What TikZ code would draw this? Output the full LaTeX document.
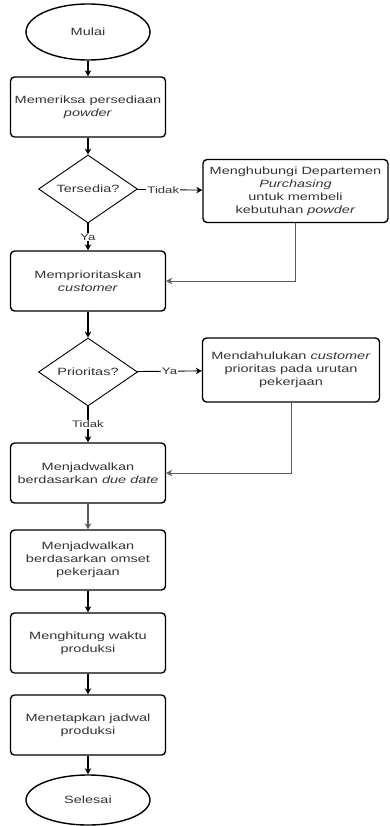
\documentclass[tikz,border=0pt]{standalone}
\usepackage{fontspec}
\setmainfont[FakeStretch=1.38]{Liberation Sans}
\usepackage{xcolor}
\usepackage{tikz}
\usetikzlibrary{arrows.meta, positioning, shapes.geometric}
\definecolor{ctext}{RGB}{51,51,51}
\definecolor{cline}{RGB}{90,90,90}

\begin{document}
\begin{tikzpicture}[
    x=1pt, y=-1pt,
    >={Stealth[length=6pt, width=6.5pt]},
    every node/.style={font=\fontsize{10.5}{13}\selectfont, text=ctext},
    procbox/.style={draw, rounded corners=4pt, line width=1.4pt, minimum width=155pt, minimum height=60pt, align=center, inner sep=2pt},
    decision/.style={draw, diamond, aspect=1.45, line width=0.9pt, minimum width=99pt, minimum height=68pt, inner sep=0pt},
    terminal/.style={draw, ellipse, line width=1.4pt, minimum width=124pt, minimum height=56pt},
    flow/.style={->, line width=1.5pt, black},
    side/.style={->, line width=0.9pt, cline},
    lbl/.style={fill=white, inner sep=1pt, font=\fontsize{9.5}{11}\selectfont},
]
    \useasboundingbox (0,0) rectangle (390,826);

    % Main column
    \node[terminal] (start) at (88, 32) {Mulai};
    \node[procbox] (check) at (88, 107) {Memeriksa persediaan\\\textit{powder}};
    \node[decision] (avail) at (88, 189) {Tersedia?};
    \node[procbox] (prio) at (88, 281) {Memprioritaskan\\\textit{customer}};
    \node[decision] (isprio) at (88, 372) {Prioritas?};
    \node[procbox] (due) at (88, 473) {Menjadwalkan\\berdasarkan \textit{due date}};
    \node[procbox] (omset) at (88, 560) {Menjadwalkan\\berdasarkan omset\\pekerjaan};
    \node[procbox] (time) at (88, 643) {Menghitung waktu\\produksi};
    \node[procbox] (sched) at (88, 725) {Menetapkan jadwal\\produksi};
    \node[terminal, minimum height=50pt] (stop) at (88, 800) {Selesai};

    % Side branches
    \node[procbox, minimum width=185pt, minimum height=63pt] (buy) at (295.5, 191) {Menghubungi Departemen\\\textit{Purchasing}\\untuk membeli\\kebutuhan \textit{powder}};
    \node[procbox, minimum width=177pt, minimum height=64pt] (first) at (291, 370) {Mendahulukan \textit{customer}\\prioritas pada urutan\\pekerjaan};

    \draw[flow] (start) -- (check);
    \draw[flow] (check) -- (avail);
    \draw[side, black] (avail) -- node[lbl, pos=0.4] {Tidak} (buy);
    \draw[flow, line width=1.1pt] (avail) -- node[lbl] {Ya} (prio);
    \draw[side] (buy.south) |- (prio.east);
    \draw[flow] (prio) -- (isprio);
    \draw[side, black] (isprio) -- node[lbl, pos=0.5] {Ya} (first);
    \draw[flow, line width=1.1pt] (isprio) -- node[lbl] {Tidak} (due);
    \draw[side] (first.south) |- (due.east);
    \draw[flow, cline, line width=1.1pt] (due) -- (omset);
    \draw[flow] (omset) -- (time);
    \draw[flow] (time) -- (sched);
    \draw[flow] (sched) -- (stop);
\end{tikzpicture}
\end{document}
